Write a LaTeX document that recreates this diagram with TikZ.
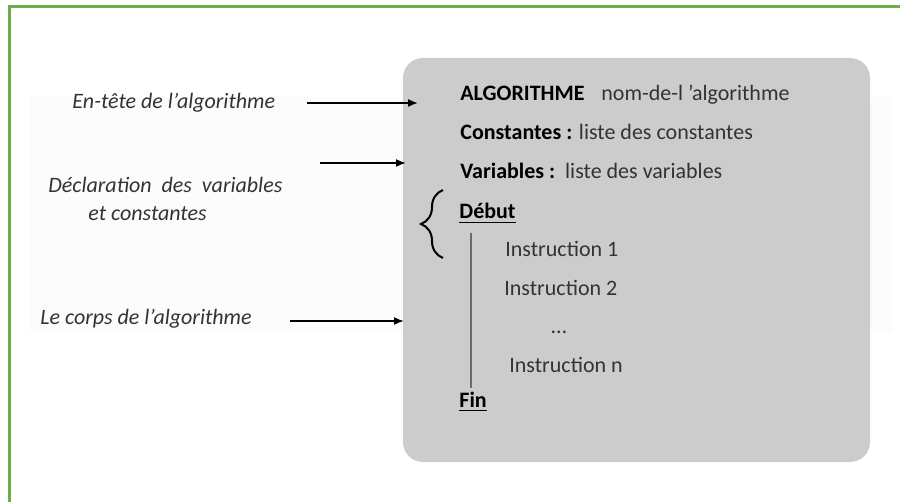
\documentclass[tikz,border=0pt]{standalone}
\usepackage{fontspec}
\setmainfont{Carlito}
\usetikzlibrary{arrows.meta,decorations.pathreplacing}
\definecolor{framegreen}{HTML}{70AD47}
\definecolor{boxgray}{HTML}{CCCCCC}
\definecolor{textgray}{HTML}{333333}
\definecolor{linegray}{HTML}{6A6A6A}

\begin{document}
\begin{tikzpicture}[x=0.5pt,y=-0.5pt]
	\tikzstyle{every node}+=[inner sep=0pt, anchor=base west, font=\fontsize{11}{13}\selectfont]
	\tikzstyle{note}=[font=\fontsize{11}{13}\selectfont\itshape, text=textgray]
	\tikzstyle{body}=[text=textgray]
	\tikzstyle{pointer}=[-{Latex[length=5pt,width=4pt]}, line width=0.8pt]
	\useasboundingbox (0,0) rectangle (900,502);
	% frame and background
	\fill [gray!2] (30,97) rectangle (893,333);
	\draw [framegreen, line width=1.5pt] (900,7) -- (9,7) -- (9,502);
	\fill [boxgray, rounded corners=10pt] (403,58) rectangle (870,462);
	% left notes
	\node [note] (entete) at (72,109) {En-tête de l’algorithme};
	\node [note] (decl) at (48,193) {Déclaration\ \ des\ \ variables};
	\node [note] (declb) at (88,221) {et constantes};
	\node [note] (corps) at (40,325) {Le corps de l’algorithme};
	% algorithm
	\node (algo) at (460,101) {\bfseries ALGORITHME};
	\node [body] (nom) at (601,101) {nom-de-l ’algorithme};
	\node [body] (const) at (460,140) {{\color{black}\bfseries Constantes :} liste des constantes};
	\node [body] (vars) at (460,179) {{\color{black}\bfseries Variables :}\ \ liste des variables};
	\node (debut) at (459,219) {\bfseries\underline{Début}};
	\node [body] (instA) at (505,257) {Instruction 1};
	\node [body] (instB) at (504,296) {Instruction 2};
	\node [body] (dots) at (551,334) {\dots};
	\node [body] (instN) at (509,372) {Instruction n};
	\node (fin) at (459,408) {\bfseries\underline{Fin}};
	% arrows
	\coordinate (ptA) at (307,103);
	\coordinate (ptB) at (418,103);
	\coordinate (ptC) at (320,163);
	\coordinate (ptD) at (406,163);
	\coordinate (ptE) at (290,321);
	\coordinate (ptF) at (404,321);
	\draw [pointer] (ptA) -- (ptB);
	\draw [pointer] (ptC) -- (ptD);
	\draw [pointer] (ptE) -- (ptF);
	% brace and block line
	\draw [decorate, decoration={brace, amplitude=11pt}, line width=1pt] (443,258) -- (443,190);
	\draw [linegray, line width=1.1pt] (471,233) -- (471,388);
\end{tikzpicture}
\end{document}
